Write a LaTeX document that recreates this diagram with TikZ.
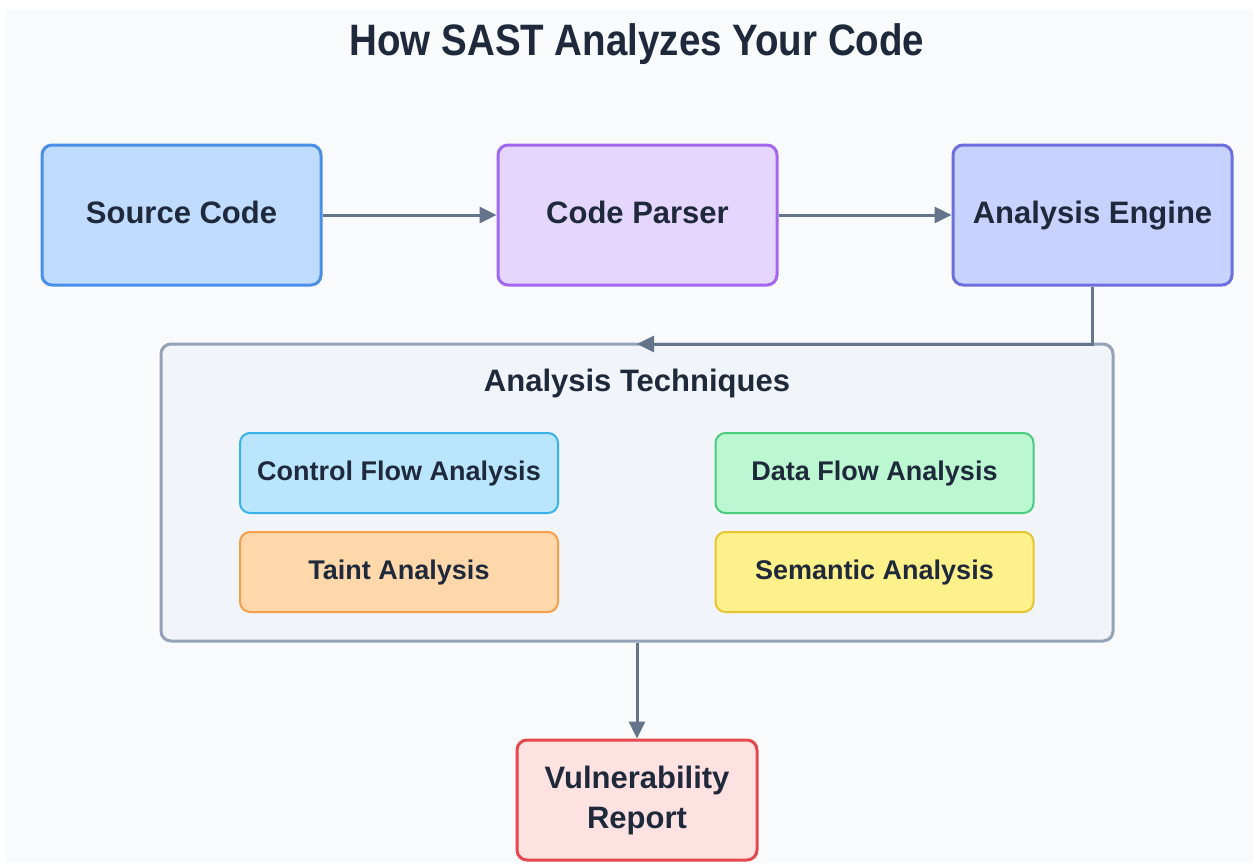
\documentclass[tikz,border=0pt]{standalone}
\usepackage{fontspec}
\setmainfont{Liberation Sans}
\usetikzlibrary{arrows.meta}
\definecolor{bgc}{HTML}{F8FAFC}
\definecolor{txt}{HTML}{1E293B}
\definecolor{arr}{HTML}{64748B}
\definecolor{srcF}{HTML}{BFDBFE}\definecolor{srcD}{HTML}{4A8FE7}
\definecolor{parF}{HTML}{E4D6FD}\definecolor{parD}{HTML}{A366EE}
\definecolor{engF}{HTML}{C7D2FE}\definecolor{engD}{HTML}{6E6FDD}
\definecolor{conF}{HTML}{F1F5F9}\definecolor{conD}{HTML}{94A3B8}
\definecolor{cfF}{HTML}{BAE6FD}\definecolor{cfD}{HTML}{38B2E8}
\definecolor{dfF}{HTML}{BBF7D0}\definecolor{dfD}{HTML}{4ACB7E}
\definecolor{taF}{HTML}{FED7AA}\definecolor{taD}{HTML}{F59E4C}
\definecolor{seF}{HTML}{FEF08A}\definecolor{seD}{HTML}{E8C530}
\definecolor{vuF}{HTML}{FEE2E2}\definecolor{vuD}{HTML}{E5484D}
\tikzset{
  mainbox/.style={draw, line width=3pt, rounded corners=10pt, minimum width=279pt, minimum height=140pt, inner sep=0pt, text height=22pt, text depth=5pt, text=txt, font=\fontsize{31}{36}\selectfont\bfseries},
  subbox/.style={draw, line width=2pt, rounded corners=10pt, minimum width=318pt, minimum height=80pt, inner sep=0pt, text height=19pt, text depth=4pt, text=txt, font=\fontsize{27}{32}\selectfont\bfseries},
  flow/.style={draw=arr, line width=3pt, -{Triangle[length=17pt,width=16pt]}},
}
\begin{document}
\begin{tikzpicture}[x=1pt,y=-1pt]
\useasboundingbox (0,0) rectangle (1253,863);
\fill[white] (0,0) rectangle (1253,863);
\fill[bgc] (5,9) rectangle (1253,863);
\node[text=txt, font=\fontsize{44}{50}\selectfont\bfseries, text height=31pt, text depth=7pt] (title) at (637,43) {\scalebox{0.875}[1]{How SAST Analyzes Your Code}};
\node[mainbox, fill=srcF, draw=srcD] (src) at (181.5,215) {Source Code};
\node[mainbox, fill=parF, draw=parD] (par) at (637.5,215) {Code Parser};
\node[mainbox, fill=engF, draw=engD] (eng) at (1092.5,215) {Analysis Engine};
\node[draw=conD, fill=conF, line width=3pt, rounded corners=10pt, minimum width=952pt, minimum height=297pt, inner sep=0pt] (tech) at (637,492.5) {};
\node[text=txt, font=\fontsize{31}{36}\selectfont\bfseries, text height=22pt, text depth=5pt] (techt) at (637,383) {Analysis Techniques};
\node[subbox, fill=cfF, draw=cfD] (cf) at (399,473) {Control Flow Analysis};
\node[subbox, fill=dfF, draw=dfD] (df) at (874.5,473) {Data Flow Analysis};
\node[subbox, fill=taF, draw=taD] (ta) at (399,572) {Taint Analysis};
\node[subbox, fill=seF, draw=seD] (se) at (874.5,572) {Semantic Analysis};
\node[draw=vuD, fill=vuF, line width=3pt, rounded corners=10pt, minimum width=240pt, minimum height=120pt, inner sep=0pt, text=txt, align=center, font=\fontsize{31}{40}\selectfont\bfseries] (vul) at (637,800) {Vulnerability\\Report};
\coordinate (tgt) at (637,344);
\draw[flow] (src) -- (par);
\draw[flow] (par) -- (eng);
\draw[flow] (eng.south) |- (tgt);
\draw[flow] (tech.south) -- (vul.north);
\end{tikzpicture}
\end{document}
